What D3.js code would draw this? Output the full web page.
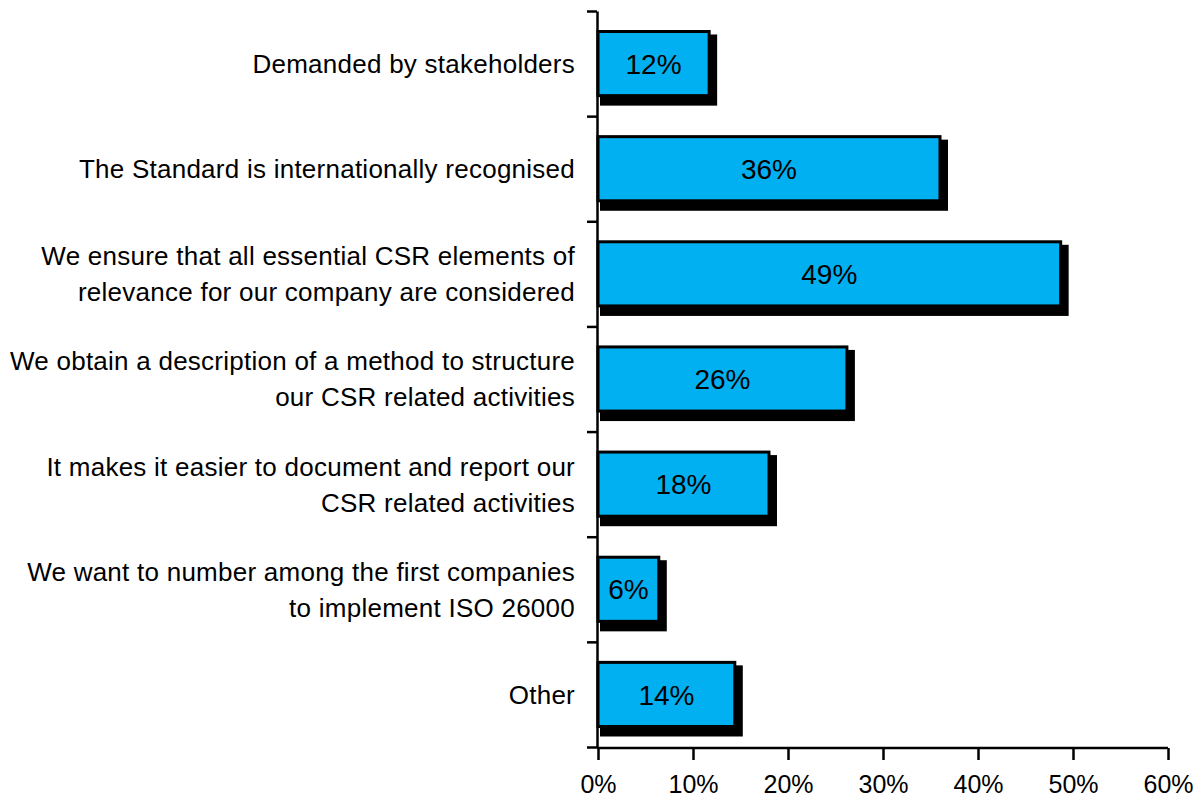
<!DOCTYPE html>
<html>
<head>
<meta charset="utf-8">
<script src="https://cdn.jsdelivr.net/npm/d3@7"></script>
<style>
  body { margin: 0; background: #fff; }
  svg text { font-family: "Liberation Sans", Arial, sans-serif; fill: #000; }
</style>
</head>
<body>
<div id="chart"></div>
<script>
// reasons, top to bottom (each entry is one label line list)
var categories = [
    ["Demanded by stakeholders"],
    ["The Standard is internationally recognised"],
    ["We ensure that all essential CSR elements of", "relevance for our company are considered"],
    ["We obtain a description of a method to structure", "our CSR related activities"],
    ["It makes it easier to document and report our", "CSR related activities"],
    ["We want to number among the first companies", "to implement ISO 26000"],
    ["Other"]
];
var values = [11.7, 36, 48.7, 26.2, 18, 6.4, 14.4];
var valueLabels = ["12%", "36%", "49%", "26%", "18%", "6%", "14%"];
var tickValues = [0, 10, 20, 30, 40, 50, 60];
var tickLabels = ["0%", "10%", "20%", "30%", "40%", "50%", "60%"];

var width = 1201, height = 800;
var margin = {top: 11, right: 33, bottom: 52, left: 598};

var svg = d3.select("#chart").append("svg")
    .attr("width", width)
    .attr("height", height);

var x = d3.scaleLinear()
    .domain([0, 60])
    .range([margin.left, width - margin.right]);

var ids = d3.range(categories.length);
var y = d3.scaleBand()
    .domain(ids)
    .range([margin.top, height - margin.bottom - 1])
    .paddingInner(0.39)
    .paddingOuter(0.195);

// boundary scale for the left axis ticks
var yEdge = d3.scaleLinear()
    .domain([0, categories.length])
    .range([margin.top, height - margin.bottom - 1]);

var bars = svg.append("g").selectAll("g")
    .data(ids)
    .enter().append("g");

// drop shadow
bars.append("rect")
    .attr("x", x(0) + 2)
    .attr("y", function(i) { return y(i) + 3; })
    .attr("width", function(i) { return x(values[i]) - x(0) + 6; })
    .attr("height", y.bandwidth() + 7)
    .attr("fill", "#000");

bars.append("rect")
    .attr("x", x(0))
    .attr("y", function(i) { return y(i); })
    .attr("width", function(i) { return x(values[i]) - x(0); })
    .attr("height", y.bandwidth())
    .attr("fill", "#00B0F0")
    .attr("stroke", "#000")
    .attr("stroke-width", 3);

bars.append("text")
    .attr("x", function(i) { return (x(0) + x(values[i])) / 2; })
    .attr("y", function(i) { return y(i) + y.bandwidth() / 2; })
    .attr("dy", "0.36em")
    .attr("text-anchor", "middle")
    .style("font-size", "28px")
    .text(function(i) { return valueLabels[i]; });

// category labels
var lineH = 36;
svg.append("g").selectAll("text")
    .data(ids)
    .enter().append("text")
    .attr("text-anchor", "end")
    .style("font-size", "26px")
    .style("letter-spacing", "0.25px")
    .each(function(i) {
        var lines = categories[i];
        var cy = y(i) + y.bandwidth() / 2;
        var t = d3.select(this);
        lines.forEach(function(line, k) {
            t.append("tspan")
                .attr("x", margin.left - 23)
                .attr("y", cy + (k - (lines.length - 1) / 2) * lineH)
                .attr("dy", "0.36em")
                .text(line);
        });
    });

// left axis with ticks on category boundaries
var yAxis = svg.append("g")
    .attr("transform", "translate(" + (x(0) - 1) + ",0)")
    .call(d3.axisLeft(yEdge).ticks(categories.length).tickSize(10).tickSizeOuter(0).tickFormat(""));
yAxis.selectAll("path, line").attr("stroke", "#000").attr("stroke-width", 2.5);

// bottom axis
var xAxis = svg.append("g")
    .attr("transform", "translate(0," + (height - margin.bottom) + ")")
    .call(d3.axisBottom(x).tickValues(tickValues).tickSize(12).tickSizeOuter(0).tickPadding(15)
        .tickFormat(function(d, i) { return tickLabels[i]; }));
xAxis.selectAll("path, line").attr("stroke", "#000").attr("stroke-width", 2.5);
xAxis.selectAll("text").style("font-size", "25px").attr("fill", "#000");
xAxis.select(".domain").attr("d", "M" + (x(0) - 1) + ",0H" + x(60));
</script>
</body>
</html>
